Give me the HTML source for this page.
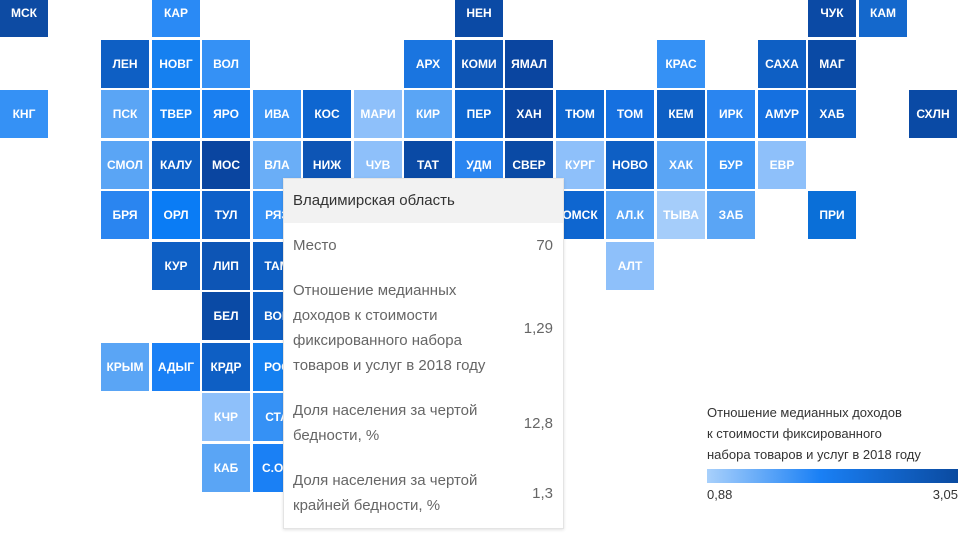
<!DOCTYPE html>
<html><head><meta charset="utf-8"><style>
body{margin:0;width:978px;height:549px;overflow:hidden;background:#fff;font-family:"Liberation Sans","DejaVu Sans",sans-serif;position:relative}
.t{position:absolute;width:48px;height:48px;color:#fff;font-weight:bold;font-size:12px;display:flex;align-items:center;justify-content:center;white-space:nowrap;overflow:hidden}
#tip{position:absolute;left:283px;top:178px;width:279px;height:349px;background:#fff;border:1px solid #e4e4e4;box-shadow:0 1px 3px rgba(0,0,0,.12);font-size:15px;color:#666}
#tip .h{background:#f2f2f2;height:44px;line-height:44px;padding-left:9px;color:#333}
.r{position:absolute;left:9px;line-height:25px}
.v{position:absolute;right:10px;line-height:25px}
#leg{position:absolute;left:707px;top:402px;font-size:13px;color:#333;line-height:21px}
</style></head><body>
<div id="tiles"></div>
<div id="tip"><div class="h">Владимирская область</div>
<div class="r" style="top:54px">Место</div><div class="v" style="top:54px">70</div>
<div class="r" style="top:99px">Отношение медианных<br>доходов к стоимости<br>фиксированного набора<br>товаров и услуг в 2018 году</div><div class="v" style="top:137px">1,29</div>
<div class="r" style="top:219px">Доля населения за чертой<br>бедности, %</div><div class="v" style="top:232px">12,8</div>
<div class="r" style="top:289px">Доля населения за чертой<br>крайней бедности, %</div><div class="v" style="top:302px">1,3</div>
</div>
<div id="leg">Отношение медианных доходов<br>к стоимости фиксированного<br>набора товаров и услуг в 2018 году
<div style="width:251px;height:14px;margin-top:4px;background:linear-gradient(90deg,#a8d0fb,#1a80f5 45%,#0a4aa0)"></div>
<div style="display:flex;justify-content:space-between;width:251px;margin-top:1px"><span>0,88</span><span>3,05</span></div></div>
<script>
var D=[[0,0,"МСК","#0d4ba3"],[3,0,"КАР","#2a8af5"],[9,0,"НЕН","#0b4aa5"],[16,0,"ЧУК","#0b4aa5"],[17,0,"КАМ","#1468cc"],
[2,1,"ЛЕН","#0e5fc4"],[3,1,"НОВГ","#1580f0"],[4,1,"ВОЛ","#3591f5"],[8,1,"АРХ","#1a75e0"],[9,1,"КОМИ","#0d55b5"],[10,1,"ЯМАЛ","#0a45a0"],[13,1,"КРАС","#3591f5"],[15,1,"САХА","#0e5fc4"],[16,1,"МАГ","#0a4aa5"],
[0,2,"КНГ","#3591f5"],[2,2,"ПСК","#5aa5f5"],[3,2,"ТВЕР","#1580f0"],[4,2,"ЯРО","#1a7ff0"],[5,2,"ИВА","#3a94f5"],[6,2,"КОС","#0e66d0"],[7,2,"МАРИ","#8ec0fa"],[8,2,"КИР","#5aa5f5"],[9,2,"ПЕР","#0e66d0"],[10,2,"ХАН","#0a45a0"],[11,2,"ТЮМ","#0e66d0"],[12,2,"ТОМ","#1570e0"],[13,2,"КЕМ","#0e5fc4"],[14,2,"ИРК","#2a85f0"],[15,2,"АМУР","#1570e0"],[16,2,"ХАБ","#0e5fc4"],[18,2,"СХЛН","#0a4aa5"],
[2,3,"СМОЛ","#5aa5f5"],[3,3,"КАЛУ","#0e5fc4"],[4,3,"МОС","#0a45a0"],[5,3,"ВЛА","#6aaef7"],[6,3,"НИЖ","#0d55b5"],[7,3,"ЧУВ","#8ec0fa"],[8,3,"ТАТ","#0a4aa5"],[9,3,"УДМ","#2a85f0"],[10,3,"СВЕР","#0a4aa5"],[11,3,"КУРГ","#8ec0fa"],[12,3,"НОВО","#0e5fc4"],[13,3,"ХАК","#5aa5f5"],[14,3,"БУР","#3a94f5"],[15,3,"ЕВР","#8ec0fa"],
[2,4,"БРЯ","#2a85f0"],[3,4,"ОРЛ","#0a7cf5"],[4,4,"ТУЛ","#0e60c8"],[5,4,"РЯЗ","#3591f5"],[10,4,"","#0e66d0"],[11,4,"ОМСК","#0e66d0"],[12,4,"АЛ.К","#5aa5f5"],[13,4,"ТЫВА","#a5cdfa"],[14,4,"ЗАБ","#5aa5f5"],[16,4,"ПРИ","#0a6fd8"],
[3,5,"КУР","#0e5fc4"],[4,5,"ЛИП","#0d55b5"],[5,5,"ТАМ","#0e5fc4"],[12,5,"АЛТ","#8ec0fa"],
[4,6,"БЕЛ","#0a4aa5"],[5,6,"ВОР","#0e5fc4"],
[2,7,"КРЫМ","#5aa5f5"],[3,7,"АДЫГ","#1a80f5"],[4,7,"КРДР","#0e5fc4"],[5,7,"РОС","#1580f0"],
[4,8,"КЧР","#8ec0fa"],[5,8,"СТА","#3591f5"],[4,9,"КАБ","#5aa5f5"],[5,9,"С.ОС","#1a80f5"]];
var h="";D.forEach(function(d){h+='<div class="t" style="left:'+Math.round(d[0]*50.5)+'px;top:'+Math.round(-11+d[1]*50.5)+'px;background:'+d[3]+'">'+d[2]+'</div>'});
document.getElementById("tiles").innerHTML=h;
</script>
</body></html>
